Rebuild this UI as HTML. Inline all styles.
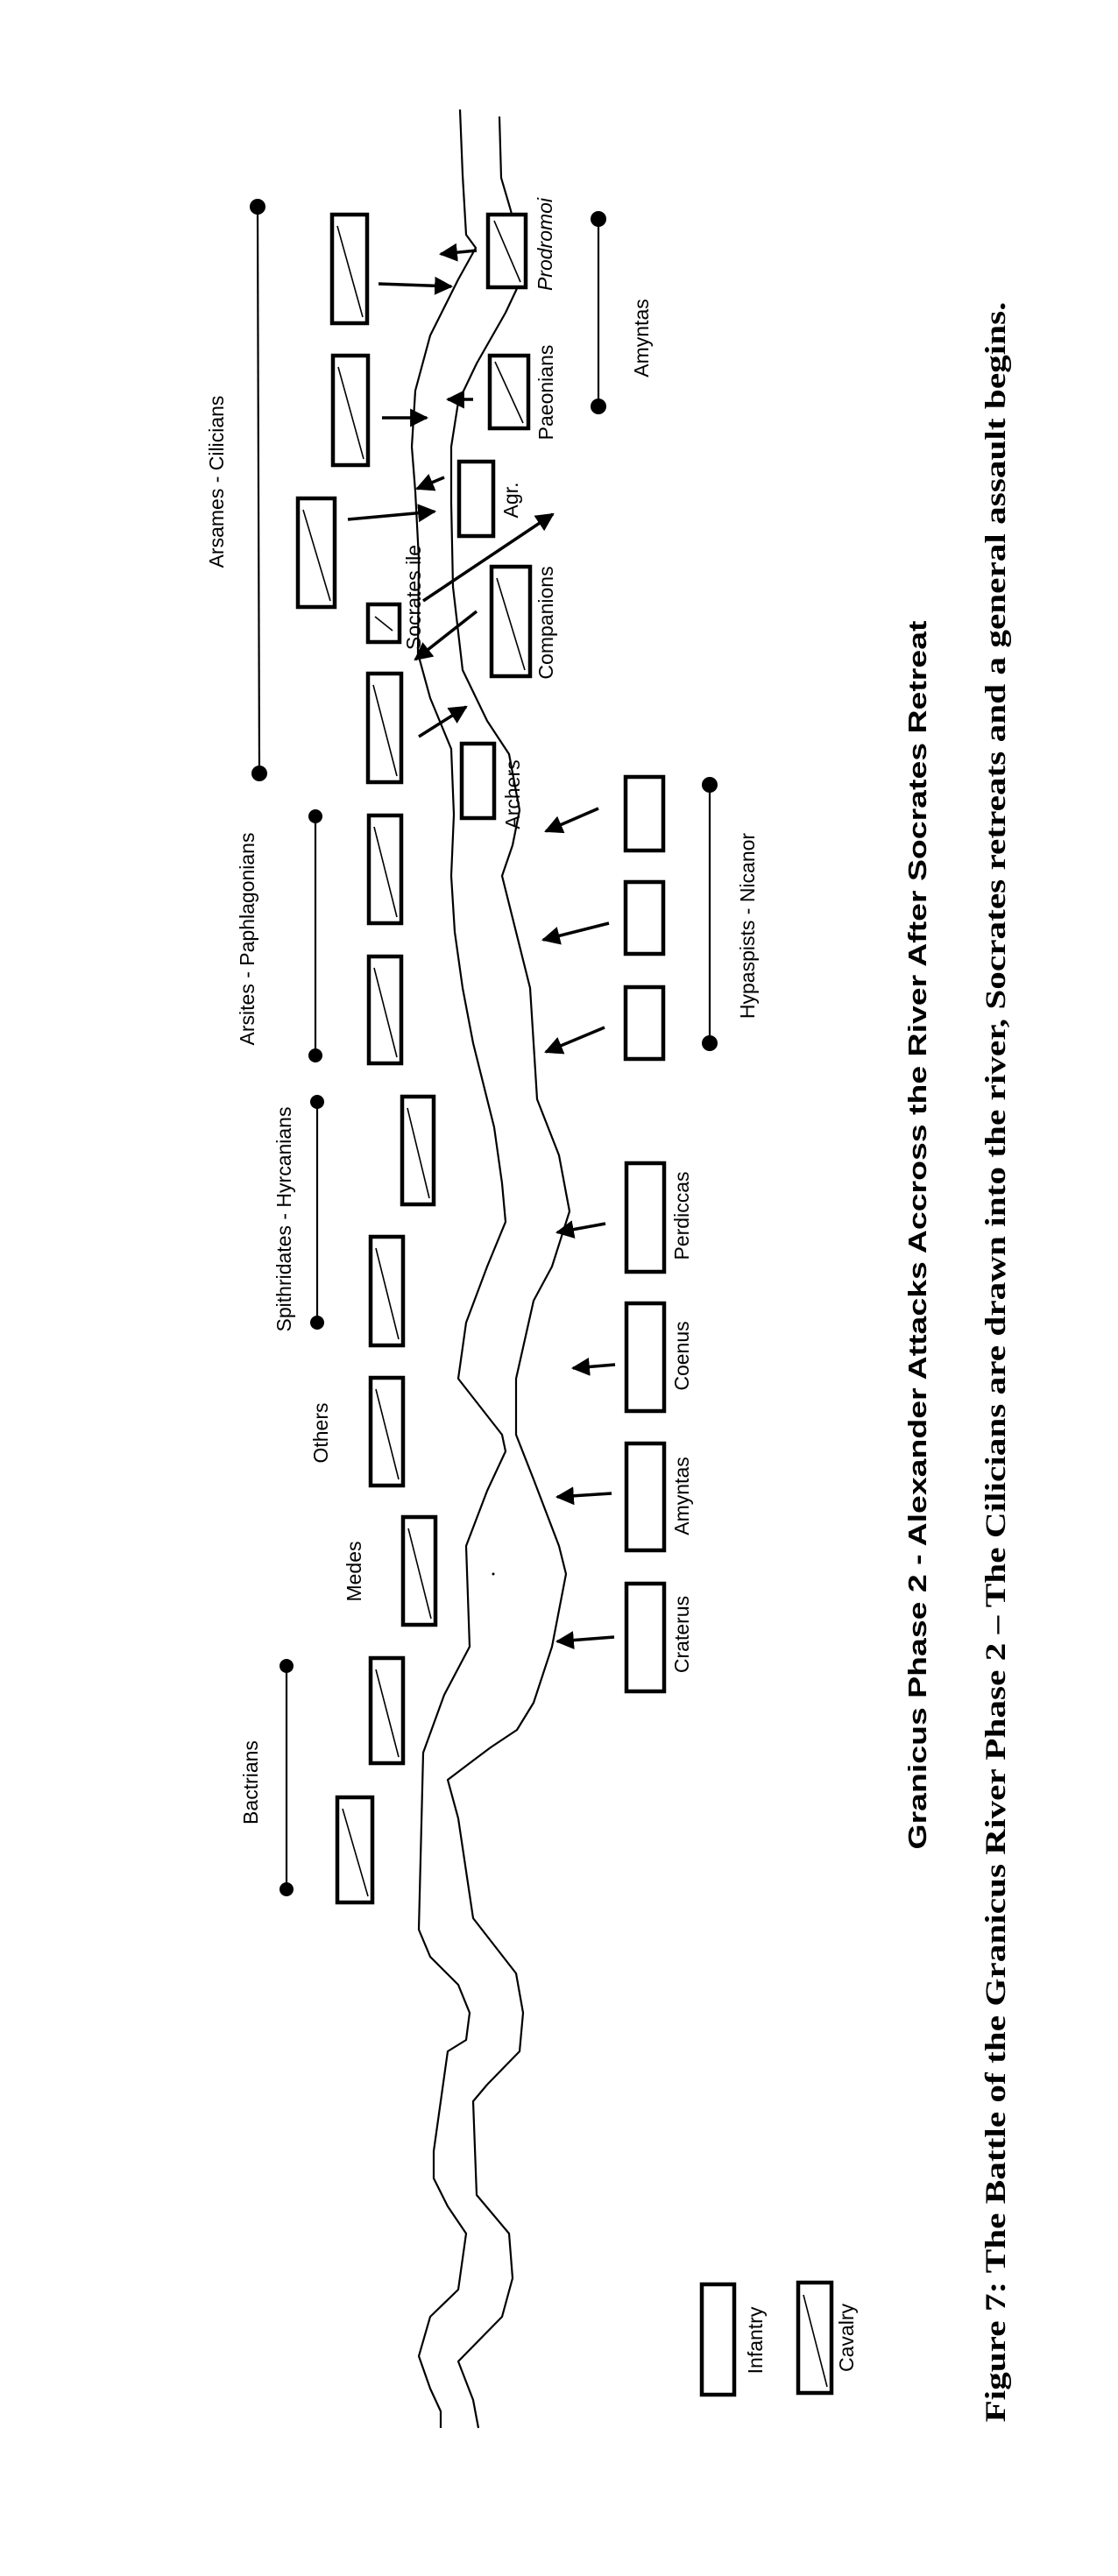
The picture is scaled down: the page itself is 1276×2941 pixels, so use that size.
<!DOCTYPE html>
<html><head><meta charset="utf-8"><style>
html,body{margin:0;padding:0;background:#fff;}
svg{display:block;}
text{font-family:"Liberation Sans",Arial,sans-serif;fill:#000;}
</style></head><body>
<svg width="1276" height="2941" viewBox="0 0 1276 2941" xmlns="http://www.w3.org/2000/svg">
<defs>
<marker id="ah" markerWidth="8" markerHeight="8" refX="7" refY="4" orient="auto" markerUnits="userSpaceOnUse" viewBox="0 0 8 8">
</marker>
<marker id="a" viewBox="0 0 10 10" refX="9" refY="5" markerWidth="6" markerHeight="6" orient="auto"><path d="M0,0 L10,5 L0,10 Z" fill="#000"/></marker>
</defs>
<rect width="1276" height="2941" fill="#fff"/>
<g fill="none" stroke="#000" stroke-width="2.2" stroke-linejoin="round">
<!-- left bank -->
<polyline points="525,125 528,200 532,268 543,283 523,319 491,383 474,446 470,510 474,561 478,638 477,746 491,797 515,855 518,930 515,1000 519,1064 528,1128 540,1191 556,1255 564,1287 573,1351 577,1395 556,1446 532,1510 523,1574 573,1638 577,1657 556,1702 532,1765 536,1880 507,1935 483,2001 478,2203 491,2234 523,2266 536,2298 532,2329 511,2342 495,2456 495,2487 511,2519 532,2550 523,2614 491,2645 478,2690 491,2727 503,2753 503,2772"/>
<!-- right bank -->
<polyline points="570,133 572,203 582,237 601,306 577,357 544,415 523,459 515,510 515,574 517,670 528,765 556,823 581,861 593,925 585,965 573,1000 589,1064 605,1128 609,1191 613,1255 638,1319 650,1383 630,1446 609,1485 589,1574 589,1638 609,1689 638,1765 646,1797 630,1880 609,1944 590,1975 560,1995 540,2010 511,2032 523,2076 540,2190 589,2253 597,2298 593,2342 556,2380 540,2399 544,2506 581,2550 585,2601 573,2645 523,2696 540,2740 546,2772"/>
</g>
<!-- rects -->
<g fill="#fff" stroke="#000" stroke-width="4.5">
<rect x="379" y="245" width="40" height="124"/>
<rect x="380" y="406" width="40" height="125"/>
<rect x="340" y="569" width="42" height="124"/>
<rect x="420" y="690" width="36" height="43"/>
<rect x="420" y="769" width="38" height="124"/>
<rect x="421" y="931" width="37" height="123"/>
<rect x="421" y="1092" width="37" height="122"/>
<rect x="459" y="1252" width="36" height="123"/>
<rect x="423" y="1412" width="37" height="124"/>
<rect x="423" y="1573" width="37" height="123"/>
<rect x="460" y="1732" width="37" height="123"/>
<rect x="423" y="1893" width="37" height="120"/>
<rect x="385" y="2052" width="40" height="120"/>
<rect x="557" y="245" width="43" height="83"/>
<rect x="559" y="406" width="44" height="83"/>
<rect x="524" y="527" width="39" height="85"/>
<rect x="561" y="647" width="44" height="125"/>
<rect x="527" y="849" width="37" height="85"/>
<rect x="714" y="887" width="43" height="84"/>
<rect x="714" y="1007" width="43" height="82"/>
<rect x="714" y="1127" width="43" height="82"/>
<rect x="715" y="1328" width="43" height="124"/>
<rect x="715" y="1488" width="43" height="123"/>
<rect x="715" y="1648" width="43" height="122"/>
<rect x="715" y="1808" width="43" height="123"/>
<rect x="801" y="2608" width="37" height="126"/>
<rect x="911" y="2606" width="38" height="126"/>
</g>
<!-- cavalry diagonals -->
<g stroke="#000" stroke-width="1.6">
<line x1="385" y1="258" x2="414" y2="362"/>
<line x1="386" y1="419" x2="415" y2="524"/>
<line x1="346" y1="582" x2="377" y2="686"/>
<line x1="428" y1="704" x2="448" y2="720"/>
<line x1="426" y1="782" x2="453" y2="886"/>
<line x1="427" y1="944" x2="453" y2="1047"/>
<line x1="427" y1="1105" x2="453" y2="1207"/>
<line x1="465" y1="1265" x2="490" y2="1368"/>
<line x1="429" y1="1425" x2="455" y2="1529"/>
<line x1="429" y1="1586" x2="455" y2="1689"/>
<line x1="466" y1="1745" x2="492" y2="1848"/>
<line x1="429" y1="1906" x2="455" y2="2006"/>
<line x1="391" y1="2065" x2="420" y2="2165"/>
<line x1="564" y1="252" x2="594" y2="322"/>
<line x1="565" y1="413" x2="597" y2="483"/>
<line x1="567" y1="660" x2="599" y2="765"/>
<line x1="917" y1="2620" x2="944" y2="2725"/>
</g>
<!-- dot lines -->
<g stroke="#000" stroke-width="2.2">
<line x1="294" y1="236" x2="296" y2="883"/>
<line x1="360" y1="932" x2="360" y2="1205"/>
<line x1="362" y1="1258" x2="362" y2="1510"/>
<line x1="327" y1="1902" x2="327" y2="2157"/>
<line x1="683" y1="250" x2="683" y2="464"/>
<line x1="810" y1="896" x2="810" y2="1191"/>
</g>
<g fill="#000">
<circle cx="294" cy="236" r="9"/><circle cx="296" cy="883" r="9"/>
<circle cx="360" cy="932" r="8"/><circle cx="360" cy="1205" r="8"/>
<circle cx="362" cy="1258" r="8"/><circle cx="362" cy="1510" r="8"/>
<circle cx="327" cy="1902" r="8"/><circle cx="327" cy="2157" r="8"/>
<circle cx="683" cy="250" r="9"/><circle cx="683" cy="464" r="9"/>
<circle cx="810" cy="896" r="9"/><circle cx="810" cy="1191" r="9"/>
<circle cx="563" cy="1797" r="1.5"/>
</g>
<!-- arrows -->
<g stroke="#000" stroke-width="3.5" marker-end="url(#a)">
<line x1="432" y1="324" x2="515" y2="327"/>
<line x1="544" y1="286" x2="503" y2="290"/>
<line x1="436" y1="477" x2="487" y2="477"/>
<line x1="540" y1="456" x2="511" y2="456"/>
<line x1="507" y1="545" x2="476" y2="558"/>
<line x1="397" y1="593" x2="496" y2="584"/>
<line x1="483" y1="686" x2="631" y2="587"/>
<line x1="544" y1="698" x2="474" y2="753"/>
<line x1="478" y1="841" x2="532" y2="807"/>
<line x1="683" y1="923" x2="623" y2="949"/>
<line x1="695" y1="1054" x2="620" y2="1073"/>
<line x1="690" y1="1173" x2="623" y2="1201"/>
<line x1="691" y1="1397" x2="636" y2="1407"/>
<line x1="702" y1="1558" x2="654" y2="1562"/>
<line x1="698" y1="1705" x2="636" y2="1709"/>
<line x1="701" y1="1869" x2="636" y2="1874"/>
</g>
<!-- labels -->
<g font-size="23" text-anchor="middle" dominant-baseline="central">
<text transform="translate(247,550) rotate(-90)">Arsames - Cilicians</text>
<text transform="translate(282,1072) rotate(-90)">Arsites - Paphlagonians</text>
<text transform="translate(324,1392) rotate(-90)">Spithridates - Hyrcanians</text>
<text transform="translate(366,1636) rotate(-90)">Others</text>
<text transform="translate(404,1794) rotate(-90)">Medes</text>
<text transform="translate(286,2035) rotate(-90)">Bactrians</text>
<text transform="translate(622,279) rotate(-90)" font-style="italic">Prodromoi</text>
<text transform="translate(623,448) rotate(-90)">Paeonians</text>
<text transform="translate(732,386) rotate(-90)">Amyntas</text>
<text transform="translate(583,571) rotate(-90)">Agr.</text>
<text transform="translate(472,682) rotate(-90)">Socrates ile</text>
<text transform="translate(623,711) rotate(-90)">Companions</text>
<text transform="translate(585,907) rotate(-90)">Archers</text>
<text transform="translate(853,1057) rotate(-90)">Hypaspists - Nicanor</text>
<text transform="translate(778,1388) rotate(-90)">Perdiccas</text>
<text transform="translate(778,1548) rotate(-90)">Coenus</text>
<text transform="translate(778,1708) rotate(-90)">Amyntas</text>
<text transform="translate(778,1866) rotate(-90)">Craterus</text>
<text transform="translate(862,2672) rotate(-90)">Infantry</text>
<text transform="translate(966,2669) rotate(-90)">Cavalry</text>
</g>
<text transform="translate(1048,1410) rotate(-90)" text-anchor="middle" dominant-baseline="central" font-size="29" font-weight="bold" textLength="1403" lengthAdjust="spacingAndGlyphs">Granicus Phase 2 - Alexander Attacks Accross the River After Socrates Retreat</text>
<text transform="translate(1137,1555) rotate(-90)" text-anchor="middle" dominant-baseline="central" font-size="33" font-weight="bold" style="font-family:'Liberation Serif',serif" textLength="2421" lengthAdjust="spacingAndGlyphs">Figure 7: The Battle of the Granicus River Phase 2 – The Cilicians are drawn into the river, Socrates retreats and a general assault begins.</text>
</svg>
</body></html>
